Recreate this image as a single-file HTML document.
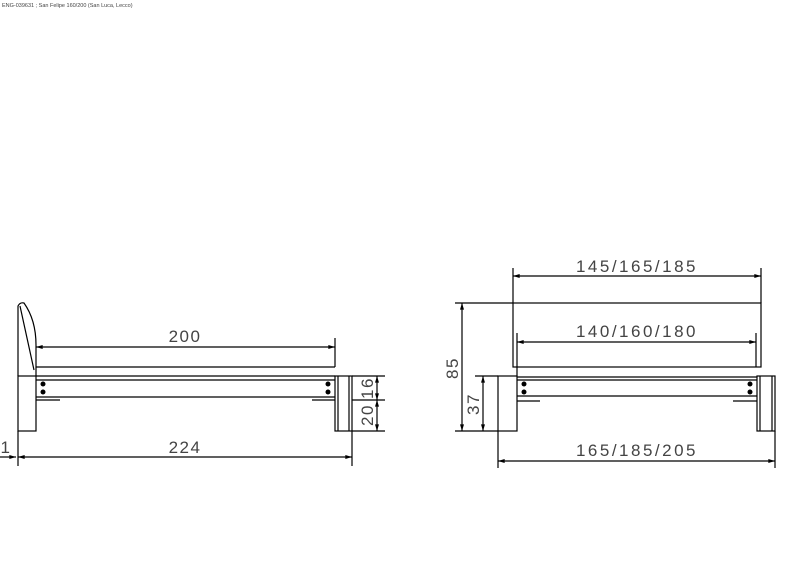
<!DOCTYPE html>
<html><head><meta charset="utf-8"><style>
html,body{margin:0;padding:0;background:#fff;width:800px;height:566px;overflow:hidden}
svg{display:block}
text{font-family:"Liberation Sans",sans-serif;fill:#444}
</style></head><body>
<svg width="800" height="566" viewBox="0 0 800 566" xmlns="http://www.w3.org/2000/svg">
<defs>
<marker id="a" viewBox="0 0 10 6" refX="10" refY="3" markerWidth="8" markerHeight="4" orient="auto-start-reverse" markerUnits="userSpaceOnUse"><path d="M0,0 L10,3 L0,6z" fill="#000"/></marker>
</defs>
<text x="2" y="7" font-size="5.5" fill="#666">ENG-039631 ; San Felipe 160/200 (San Luca, Lecco)</text>
<g stroke="#000" stroke-width="1.2" fill="none">
<path d="M18,376 L18,306 Q20,302 24,303 Q36,320 36,345 L36,376"/>
<path d="M20,306 L34,370"/>
<rect x="18" y="376" width="18" height="55"/>
<line x1="36" y1="367" x2="335" y2="367"/>
<line x1="36" y1="376" x2="335" y2="376"/>
<line x1="36" y1="380" x2="335" y2="380"/>
<line x1="36" y1="397" x2="335" y2="397"/>
<line x1="36" y1="400" x2="60" y2="400"/>
<line x1="312" y1="400" x2="335" y2="400"/>
<rect x="335" y="376" width="17" height="55"/>
<line x1="338" y1="376" x2="338" y2="431"/>
<line x1="349" y1="376" x2="349" y2="431"/>
<line x1="335" y1="338" x2="335" y2="367"/>
<line x1="36" y1="347" x2="335" y2="347" marker-start="url(#a)" marker-end="url(#a)"/>
<line x1="352" y1="376" x2="385" y2="376"/>
<line x1="352" y1="400" x2="385" y2="400"/>
<line x1="352" y1="431" x2="385" y2="431"/>
<line x1="377" y1="376" x2="377" y2="400" marker-start="url(#a)" marker-end="url(#a)"/>
<line x1="377" y1="400" x2="377" y2="431" marker-start="url(#a)" marker-end="url(#a)"/>
<line x1="18" y1="431" x2="18" y2="466"/>
<line x1="352" y1="431" x2="352" y2="466"/>
<line x1="18" y1="457" x2="352" y2="457" marker-start="url(#a)" marker-end="url(#a)"/>
<line x1="0" y1="457" x2="16" y2="457" marker-end="url(#a)"/>
<rect x="513" y="303" width="248" height="64"/>
<line x1="513" y1="268" x2="513" y2="303"/>
<line x1="761" y1="268" x2="761" y2="303"/>
<line x1="513" y1="276" x2="761" y2="276" marker-start="url(#a)" marker-end="url(#a)"/>
<line x1="517" y1="333" x2="517" y2="376"/>
<line x1="756" y1="333" x2="756" y2="367"/>
<line x1="517" y1="342" x2="756" y2="342" marker-start="url(#a)" marker-end="url(#a)"/>
<rect x="498" y="376" width="19" height="55"/>
<rect x="757" y="376" width="18" height="55"/>
<line x1="760" y1="376" x2="760" y2="431"/>
<line x1="772" y1="376" x2="772" y2="431"/>
<line x1="517" y1="377" x2="757" y2="377"/>
<line x1="517" y1="380" x2="757" y2="380"/>
<line x1="517" y1="396" x2="757" y2="396"/>
<line x1="517" y1="401" x2="540" y2="401"/>
<line x1="733" y1="401" x2="757" y2="401"/>
<line x1="455" y1="303" x2="513" y2="303"/>
<line x1="455" y1="431" x2="498" y2="431"/>
<line x1="475" y1="376" x2="498" y2="376"/>
<line x1="462" y1="303" x2="462" y2="431" marker-start="url(#a)" marker-end="url(#a)"/>
<line x1="483" y1="376" x2="483" y2="431" marker-start="url(#a)" marker-end="url(#a)"/>
<line x1="498" y1="431" x2="498" y2="468"/>
<line x1="775" y1="431" x2="775" y2="468"/>
<line x1="498" y1="461" x2="775" y2="461" marker-start="url(#a)" marker-end="url(#a)"/>
</g>
<g fill="#000">
<circle cx="43" cy="384" r="2.5"/><circle cx="43" cy="392" r="2.5"/>
<circle cx="328" cy="384" r="2.5"/><circle cx="328" cy="392" r="2.5"/>
<circle cx="524" cy="384" r="2.5"/><circle cx="524" cy="392" r="2.5"/>
<circle cx="750" cy="384" r="2.5"/><circle cx="750" cy="392" r="2.5"/>
</g>
<g font-size="17" text-anchor="middle" letter-spacing="1.5">
<text x="185" y="342">200</text>
<text x="185" y="453">224</text>
<text x="6" y="453">1</text>
<text transform="translate(373,388) rotate(-90)">16</text>
<text transform="translate(373,415) rotate(-90)">20</text>
<text x="637" y="272" letter-spacing="2.5">145/165/185</text>
<text x="637" y="337" letter-spacing="2.5">140/160/180</text>
<text transform="translate(458,368) rotate(-90)">85</text>
<text transform="translate(479,404) rotate(-90)">37</text>
<text x="637" y="456" letter-spacing="2.5">165/185/205</text>
</g>
</svg>
</body></html>
